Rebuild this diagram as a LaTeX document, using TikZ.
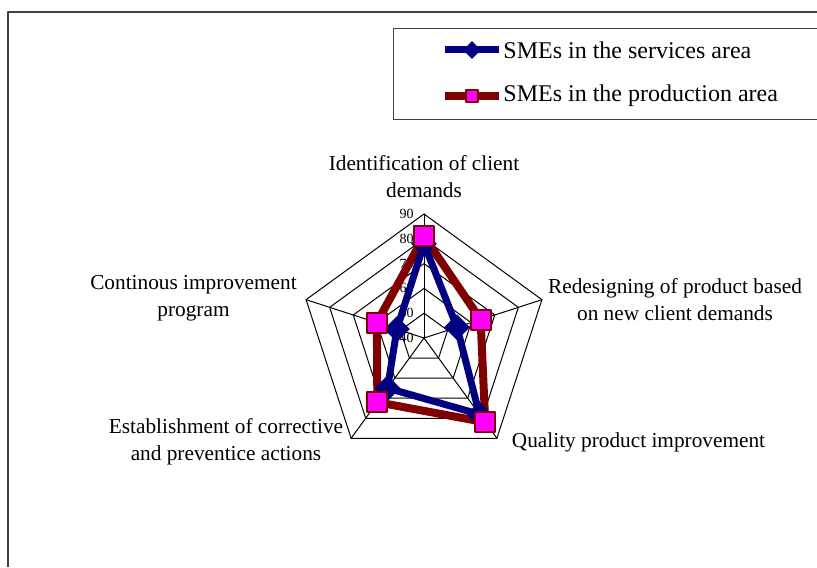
\documentclass[tikz,border=0pt]{standalone}
\usepackage{fontspec}
\setmainfont{Liberation Serif}
\usetikzlibrary{shapes.geometric,calc}
\definecolor{servblue}{RGB}{0,0,128}
\definecolor{prodred}{RGB}{128,0,0}
\definecolor{markpink}{RGB}{255,0,255}
\tikzset{
  gridline/.style={line width=0.5pt, black},
  servline/.style={line width=3.5pt, servblue, line join=round},
  prodline/.style={line width=4pt, prodred, line join=round},
  servmark/.style={diamond, fill=servblue, inner sep=0pt, minimum size=13pt},
  prodmark/.style={rectangle, fill=markpink, draw=prodred, line width=1pt, inner sep=0pt, minimum size=10pt},
  axislabel/.style={align=center, font=\fontsize{10.65}{13.5}\selectfont},
  ticklabel/.style={anchor=east, inner sep=0pt, font=\fontsize{7}{8}\selectfont}
}
\begin{document}
\begin{tikzpicture}[x=0.5pt, y=0.5pt, line join=round, line cap=round]
        \def\r{2.48}
\useasboundingbox (0,0) rectangle (817,567);
\coordinate (O) at (424,229);
% frame and legend
        \draw[line width=1pt, black!75, line cap=butt] (8,0) -- (8,555) -- (830,555);
        \draw[line width=0.5pt, black!75] (393,447) rectangle (830,538);
\coordinate (ls1) at (445,517); \coordinate (ls2) at (499,517);
\coordinate (lp1) at (445,471); \coordinate (lp2) at (499,471);
        \draw[servline, line cap=butt] (ls1) -- (ls2);
        \node[servmark, minimum size=9pt] (lsm) at ($(ls1)!0.5!(ls2)$) {};
        \draw[prodline, line cap=butt] (lp1) -- (lp2);
        \node[prodmark, minimum size=6pt] (lpm) at ($(lp1)!0.5!(lp2)$) {};
\node[anchor=west, inner sep=0pt, font=\fontsize{12}{14}\selectfont] (lst) at (503,517) {SMEs in the services area};
\node[anchor=west, inner sep=0pt, font=\fontsize{12}{14}\selectfont] (lpt) at (503,471) {SMEs in the production area};
% radar grid
\begin{scope}[shift={(O)}]
        \foreach \v in {50,60,...,90}
          \draw[gridline] (90:{(\v-40)*\r}) -- (18:{(\v-40)*\r}) -- (-54:{(\v-40)*\r}) -- (-126:{(\v-40)*\r}) -- (162:{(\v-40)*\r}) -- cycle;
        \foreach \a in {90,18,-54,-126,162}
          \draw[gridline] (0,0) -- (\a:{50*\r});
        \foreach \v in {40,50,...,90}
          \node[ticklabel] (t\v) at (-10,{(\v-40)*\r}) {\v};
% data
        \foreach \a/\v [count=\i] in {90/81,18/64,-54/82,-126/72,162/60}
          \coordinate (p\i) at (\a:{(\v-40)*\r});
        \foreach \a/\v [count=\i] in {90/78,18/54,-54/78,-126/65,162/51.5}
          \coordinate (s\i) at (\a:{(\v-40)*\r});
\end{scope}
        \draw[prodline] (p1) -- (p2) -- (p3) -- (p4) -- (p5) -- cycle;
        \draw[servline] (s1) -- (s2) -- (s3) -- (s4) -- (s5) -- cycle;
        \foreach \i in {1,...,5} \node[servmark] (sm\i) at (s\i) {};
        \foreach \i in {1,...,5} \node[prodmark] (pm\i) at (p\i) {};
% axis names
\node[axislabel] (n1) at (424,390.5) {Identification of client\\demands};
\node[axislabel] (n2) at (675,267) {Redesigning of product based\\on new client demands};
\node[axislabel] (n3) at (638.5,125) {Quality product improvement};
\node[axislabel] (n4) at (226,125.5) {Establishment of corrective\\and preventice actions};
\node[axislabel] (n5) at (193.5,269) {Continous improvement\\program};
    \end{tikzpicture}
\end{document}
